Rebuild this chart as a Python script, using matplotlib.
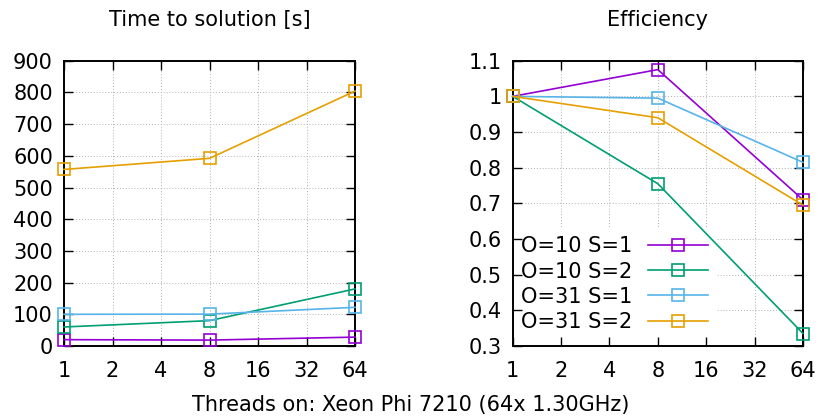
import matplotlib
matplotlib.use("Agg")
import matplotlib.pyplot as plt

threads = [1, 8, 64]
xticks = [1, 2, 4, 8, 16, 32, 64]
labels = ["O=10 S=1", "O=10 S=2", "O=31 S=1", "O=31 S=2"]
colors = ["#9400d3", "#009e73", "#56b4e9", "#e69f00"]

time_o10_s1 = [20, 18.6, 28]
time_o10_s2 = [60, 80, 180]
time_o31_s1 = [100, 100.5, 122]
time_o31_s2 = [557, 592, 804]

eff_o10_s1 = [1.0, 1.075, 0.71]
eff_o10_s2 = [1.0, 0.755, 0.335]
eff_o31_s1 = [1.0, 0.995, 0.815]
eff_o31_s2 = [1.0, 0.94, 0.695]

times = [time_o10_s1, time_o10_s2, time_o31_s1, time_o31_s2]
effs = [eff_o10_s1, eff_o10_s2, eff_o31_s1, eff_o31_s2]

time_yticks = [0, 100, 200, 300, 400, 500, 600, 700, 800, 900]
eff_yticks = [0.3, 0.4, 0.5, 0.6, 0.7, 0.8, 0.9, 1.0, 1.1]
eff_yticklabels = ["0.3", "0.4", "0.5", "0.6", "0.7", "0.8", "0.9", "1", "1.1"]

plt.rcParams['font.family'] = ['DejaVu Sans']
FS = 15
fig = plt.figure(figsize=(8.22, 4.17), dpi=100)
ax1 = fig.add_axes([64/822, 71/417, 291/822, 285.3/417])
ax2 = fig.add_axes([512.7/822, 71/417, 290.3/822, 285.3/417])

GRID = dict(linestyle=(0, (1, 2)), color='#b0b0b0', linewidth=0.7, zorder=0.5)

def style(ax, yticks):
    ax.set_xscale('log', base=2)
    ax.set_xlim(1, 64)
    ax.set_xticks(xticks)
    ax.set_xticklabels([str(v) for v in xticks])
    ax.minorticks_off()
    ax.tick_params(which='major', direction='in', length=6.5, width=1.0,
                   top=True, right=True, labelsize=FS, pad=8, color='black')
    ax.tick_params(axis='x', pad=11)
    for s in ax.spines.values():
        s.set_linewidth(1.4)
    for t in xticks:
        ax.axvline(t, **GRID)
    for t in yticks:
        ax.axhline(t, **GRID)

for y, c, lab in zip(times, colors, labels):
    ax1.plot(threads, y, color=c, lw=1.2, marker='s', markersize=8,
             markerfacecolor='none', markeredgewidth=1.2, clip_on=False, label=lab, zorder=3)
style(ax1, time_yticks)
ax1.set_ylim(0, 900)
ax1.set_yticks(time_yticks)
ax1.set_title("Time to solution [s]", fontsize=FS, pad=25)

for y, c, lab in zip(effs, colors, labels):
    ax2.plot(threads, y, color=c, lw=1.2, marker='s', markersize=8,
             markerfacecolor='none', markeredgewidth=1.2, clip_on=False, label=lab, zorder=3)
style(ax2, eff_yticks)
ax2.set_ylim(0.3, 1.1)
ax2.set_yticks(eff_yticks)
ax2.set_yticklabels(eff_yticklabels)
ax2.set_title("Efficiency", fontsize=FS, pad=25)

leg = ax2.legend(loc='lower left', bbox_to_anchor=(0.0, 0.02), fontsize=FS, markerfirst=False,
                 frameon=True, framealpha=1, edgecolor='none', fancybox=False,
                 handlelength=2.9, handletextpad=0.75, labelspacing=0.25,
                 borderpad=0.4, borderaxespad=0.0)
leg.set_zorder(1.0)

fig.text(411/822, 1 - 405/417, "Threads on: Xeon Phi 7210 (64x 1.30GHz)", fontsize=FS,
         ha='center', va='center')

fig.savefig("out.png", dpi=100)
